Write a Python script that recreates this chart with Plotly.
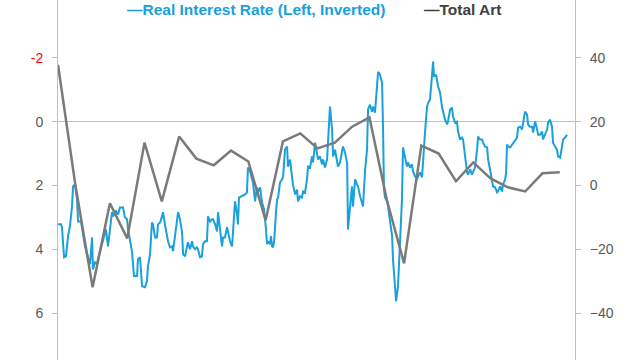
import plotly.graph_objects as go

# Real interest rate (left axis, inverted) - decimal year, value
rate_years = [
    1990.00, 1990.17, 1990.23, 1990.35, 1990.46, 1990.58, 1990.69, 1990.81, 1990.87, 1990.98,
    1991.10, 1991.16, 1991.33, 1991.45, 1991.56, 1991.73, 1991.85, 1991.97, 1992.02, 1992.14,
    1992.25, 1992.31, 1992.43, 1992.60, 1992.77, 1992.89, 1993.01, 1993.12, 1993.18, 1993.35,
    1993.47, 1993.58, 1993.76, 1993.87, 1993.99, 1994.05, 1994.28, 1994.39, 1994.57, 1994.62,
    1994.74, 1994.80, 1994.86, 1995.03, 1995.14, 1995.20, 1995.32, 1995.43, 1995.49, 1995.61,
    1995.72, 1995.78, 1995.90, 1996.01, 1996.07, 1996.18, 1996.36, 1996.47, 1996.59, 1996.65,
    1996.76, 1996.88, 1996.94, 1997.05, 1997.17, 1997.23, 1997.34, 1997.51, 1997.63, 1997.75,
    1997.80, 1997.92, 1998.03, 1998.09, 1998.21, 1998.32, 1998.38, 1998.50, 1998.61, 1998.67,
    1998.79, 1998.90, 1998.96, 1999.08, 1999.19, 1999.25, 1999.36, 1999.48, 1999.54, 1999.65,
    1999.77, 1999.83, 1999.94, 2000.06, 2000.12, 2000.23, 2000.35, 2000.40, 2000.46, 2000.64,
    2000.81, 2000.92, 2000.98, 2001.10, 2001.21, 2001.27, 2001.39, 2001.50, 2001.56, 2001.68,
    2001.79, 2001.91, 2002.02, 2002.08, 2002.14, 2002.25, 2002.31, 2002.37, 2002.43, 2002.49,
    2002.60, 2002.66, 2002.72, 2002.83, 2002.95, 2003.01, 2003.12, 2003.24, 2003.29, 2003.41,
    2003.53, 2003.58, 2003.70, 2003.82, 2003.87, 2003.99, 2004.10, 2004.16, 2004.28, 2004.39,
    2004.45, 2004.57, 2004.68, 2004.74, 2004.86, 2004.97, 2005.03, 2005.14, 2005.26, 2005.32,
    2005.43, 2005.55, 2005.61, 2005.72, 2005.84, 2005.90, 2006.01, 2006.13, 2006.18, 2006.30,
    2006.42, 2006.47, 2006.59, 2006.71, 2006.76, 2006.88, 2006.99, 2007.05, 2007.17, 2007.28,
    2007.34, 2007.46, 2007.57, 2007.63, 2007.75, 2007.86, 2007.92, 2008.03, 2008.15, 2008.21,
    2008.32, 2008.44, 2008.50, 2008.61, 2008.73, 2008.79, 2008.84, 2008.90, 2009.02, 2009.08,
    2009.19, 2009.31, 2009.36, 2009.48, 2009.54, 2009.65, 2009.71, 2009.77, 2009.88, 2009.94,
    2010.06, 2010.17, 2010.23, 2010.35, 2010.46, 2010.52, 2010.64, 2010.75, 2010.81, 2010.92,
    2011.04, 2011.10, 2011.21, 2011.33, 2011.39, 2011.50, 2011.62, 2011.68, 2011.73, 2011.85,
    2011.97, 2012.08, 2012.20, 2012.37, 2012.49, 2012.54, 2012.66, 2012.77, 2012.83, 2012.95,
    2013.06, 2013.12, 2013.24, 2013.35, 2013.41, 2013.53, 2013.64, 2013.70, 2013.82, 2013.93,
    2013.99, 2014.10, 2014.22, 2014.28, 2014.39, 2014.51, 2014.57, 2014.68, 2014.80, 2014.86,
    2014.97, 2015.09, 2015.14, 2015.26, 2015.38, 2015.43, 2015.55, 2015.66, 2015.72, 2015.84,
    2015.90, 2015.95, 2016.01, 2016.13, 2016.24, 2016.30, 2016.42, 2016.53, 2016.59, 2016.71,
    2016.82, 2016.88, 2016.99, 2017.11, 2017.17, 2017.28, 2017.40, 2017.46, 2017.57, 2017.69,
    2017.75, 2017.86, 2017.98, 2018.03, 2018.15, 2018.27, 2018.32, 2018.44, 2018.55, 2018.61,
    2018.73, 2018.84, 2018.90, 2019.02, 2019.13, 2019.19, 2019.31, 2019.42,
]
rate_values = [
    3.22, 3.22, 3.31, 4.25, 4.22, 3.59, 3.28, 2.66, 2.03, 1.97,
    2.44, 3.13, 3.13, 3.59, 3.91, 4.25, 4.47, 3.63, 4.63, 4.41,
    4.47, 4.31, 4.06, 3.75, 3.38, 3.91, 3.31, 2.84, 2.97, 2.81,
    2.91, 2.69, 2.69, 3.00, 3.06, 3.38, 4.09, 4.84, 4.84, 4.31,
    4.25, 4.72, 5.16, 5.19, 5.00, 4.53, 4.16, 3.16, 3.22, 3.63,
    3.63, 3.22, 3.16, 2.97, 2.84, 3.22, 3.75, 3.94, 3.91, 4.06,
    3.63, 3.22, 2.84, 3.06, 3.47, 4.16, 4.22, 3.78, 4.00, 3.75,
    3.91, 4.00, 3.94, 4.00, 4.25, 4.22, 3.84, 3.75, 3.75, 2.97,
    3.13, 3.06, 3.06, 3.22, 3.44, 2.84, 3.31, 3.91, 3.63, 3.63,
    3.31, 3.44, 3.75, 3.91, 3.28, 2.50, 2.91, 3.22, 2.38, 2.34,
    2.28, 2.22, 1.44, 1.56, 1.75, 1.91, 2.50, 2.06, 2.22, 2.06,
    2.53, 2.75, 3.38, 3.84, 3.75, 3.84, 3.59, 3.91, 3.94, 3.75,
    2.84, 2.44, 2.38, 1.91, 1.81, 1.72, 0.88, 0.78, 1.41, 1.19,
    1.75, 1.97, 2.28, 2.13, 2.50, 2.34, 2.38, 2.19, 2.22, 1.81,
    1.41, 1.44, 1.09, 1.28, 0.66, 0.97, 1.19, 1.09, 1.34, 1.19,
    1.44, 1.19, 0.47, -0.47, 0.25, 1.09, 0.88, 1.19, 1.41, 1.28,
    0.81, 0.78, 0.97, 1.30, 3.38, 2.66, 2.03, 2.66, 1.81, 1.97,
    2.03, 2.34, 2.53, 2.66, 1.50, 0.88, -0.38, -0.53, -0.31, -0.47,
    -0.28, -1.09, -1.56, -1.47, -1.22, 0.34, 2.13, 2.38, 2.50, 2.69,
    3.06, 3.59, 4.31, 5.03, 5.63, 5.16, 4.41, 3.38, 2.44, 0.81,
    1.09, 1.41, 1.28, 1.44, 1.34, 1.56, 1.72, 1.81, 1.72, 1.59,
    1.75, 1.19, 0.34, -0.47, -0.59, -0.69, -1.63, -1.88, -1.41, -1.47,
    -1.09, -0.91, -0.44, -0.06, 0.09, 0.00, -0.38, -0.44, -0.16, 0.03,
    0.00, 0.31, 0.56, 0.50, 0.56, 1.19, 1.59, 1.66, 1.50, 1.66,
    1.59, 1.44, 0.88, 0.47, 0.56, 0.56, 0.66, 0.78, 0.81, 1.19,
    1.50, 1.88, 2.03, 2.06, 2.22, 2.19, 2.03, 2.19, 1.97, 1.81,
    1.59, 0.72, 0.78, 0.81, 0.72, 0.66, 0.56, 0.50, 0.19, 0.16,
    0.25, 0.09, -0.31, -0.22, 0.09, 0.16, 0.16, 0.34, 0.00, 0.25,
    0.41, 0.41, 0.31, 0.56, 0.41, 0.25, 0.03, -0.06, 0.16, 0.66,
    0.78, 0.88, 1.09, 1.13, 0.78, 0.56, 0.50, 0.41,
]

# Total Art (right axis), annual
art_years = list(range(1990, 2020))
art_values = [
    37.8, 0.3, -31.9, -5.6, -16.6, 13.4, -5.0, 15.3, 8.4, 6.3,
    10.9, 7.5, -10.9, 13.8, 16.3, 11.6, 13.4, 18.4, 21.3, -4.4,
    -24.4, 12.5, 10.0, 1.3, 7.2, 2.2, -0.6, -1.9, 3.8, 4.1,
]

left_ticks = [-2, 0, 2, 4, 6]
left_tick_text = ['<span style="color:#ff0000">-2</span>', "0", "2", "4", "6"]
right_ticks = [-40, -20, 0, 20, 40]

BLUE = "#1aa0db"
GREY = "#7a7a7a"
AXIS = "#bfbfbf"
LABEL = "#595959"
FONT = "Liberation Sans, Arial, sans-serif"

fig = go.Figure()
fig.add_trace(go.Scatter(
    x=rate_years, y=rate_values, mode="lines", name="Real Interest Rate (Left, Inverted)",
    line=dict(color=BLUE, width=2), yaxis="y", showlegend=False,
))
fig.add_trace(go.Scatter(
    x=art_years, y=art_values, mode="lines", name="Total Art",
    line=dict(color=GREY, width=2.5), yaxis="y2", showlegend=False,
))

fig.update_layout(
    width=640, height=360,
    margin=dict(l=58, r=65, t=0, b=0),
    paper_bgcolor="white", plot_bgcolor="white",
    font=dict(family=FONT, size=14, color=LABEL),
    xaxis=dict(range=[1990, 2019.88], visible=False, showgrid=False, zeroline=False),
    yaxis=dict(
        range=[7.47, -3.81], tickvals=left_ticks, ticktext=left_tick_text,
        showgrid=False, zeroline=True, zerolinecolor=AXIS, zerolinewidth=1,
        showline=True, linecolor=AXIS, linewidth=1,
        ticks="outside", ticklen=5, tickcolor=AXIS, ticklabelstandoff=6,
        tickfont=dict(family=FONT, size=14, color=LABEL),
    ),
    yaxis2=dict(
        range=[-54.7, 58.1], tickvals=right_ticks, overlaying="y", side="right",
        showgrid=False, zeroline=False,
        showline=True, linecolor=AXIS, linewidth=1,
        ticks="outside", ticklen=5, tickcolor=AXIS, ticklabelstandoff=6,
        tickfont=dict(family=FONT, size=14, color=LABEL),
    ),
    annotations=[
        dict(text="<b>—Real Interest Rate (Left, Inverted)</b>", x=(125 - 58) / 517, y=1 - 9 / 360,
             xref="paper", yref="paper", xanchor="left", yanchor="middle", showarrow=False,
             font=dict(family=FONT, size=15.5, color=BLUE)),
        dict(text="<b>—Total Art</b>", x=(422 - 58) / 517, y=1 - 9 / 360,
             xref="paper", yref="paper", xanchor="left", yanchor="middle", showarrow=False,
             font=dict(family=FONT, size=15.5, color="#404040")),
    ],
)

fig.write_html(
    "out.html",
    config={"displayModeBar": False},
    post_script="document.body.style.margin='0';document.documentElement.style.overflow='hidden';",
)
